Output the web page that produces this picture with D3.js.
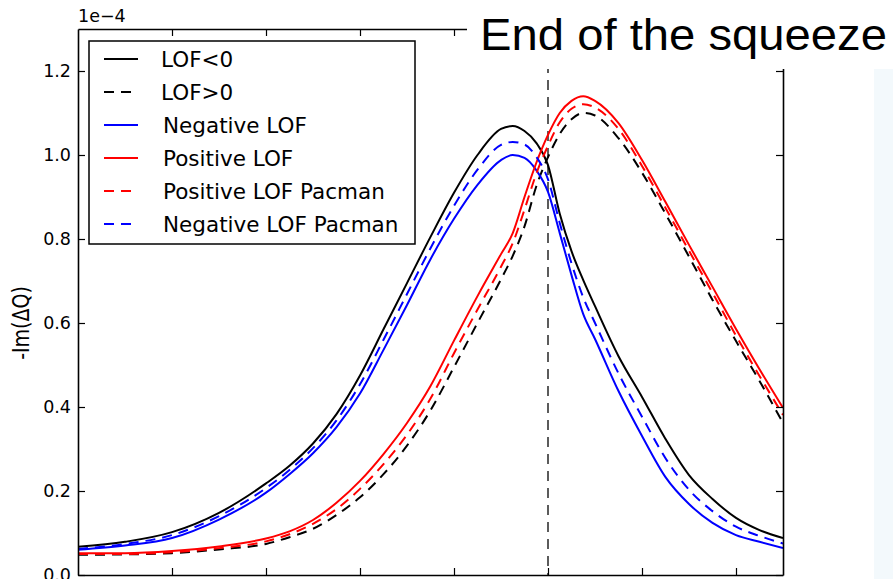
<!DOCTYPE html>
<html>
<head>
<meta charset="utf-8">
<script src="https://cdn.jsdelivr.net/npm/d3@7"></script>
<style>
  html, body { margin: 0; padding: 0; background: #fff; }
  svg { display: block; }
</style>
</head>
<body>
<svg id="chart" width="893" height="579"></svg>
<script>
// Sweep coordinate (one unit per major tick)
const xs = [0, 0.5, 1, 1.5, 2, 2.25, 2.5, 2.75, 3, 3.25, 3.5, 3.75, 4, 4.25, 4.5,
            4.625, 4.75, 4.875, 5, 5.125, 5.25, 5.375, 5.5, 5.75, 6, 6.25, 6.5,
            6.75, 7, 7.25, 7.5];

// -Im(ΔQ), in units of 1e-4
const lofNeg = [0.067, 0.079, 0.102, 0.148, 0.218, 0.260, 0.313, 0.383, 0.475, 0.585,
                0.695, 0.805, 0.910, 1.000, 1.062, 1.069, 1.057, 1.029, 0.976, 0.860,
                0.771, 0.702, 0.640, 0.521, 0.424, 0.324, 0.238, 0.181, 0.136, 0.107, 0.088];
const lofPos = [0.048, 0.049, 0.052, 0.061, 0.074, 0.090, 0.110, 0.143, 0.185, 0.240,
                0.308, 0.392, 0.495, 0.600, 0.704, 0.760, 0.830, 0.925, 0.995, 1.050,
                1.085, 1.100, 1.094, 1.040, 0.958, 0.860, 0.758, 0.655, 0.557, 0.462, 0.362];
const negativeLOF = [0.060, 0.070, 0.088, 0.132, 0.196, 0.240, 0.290, 0.352, 0.432, 0.536,
                     0.643, 0.752, 0.848, 0.929, 0.988, 1.000, 0.993, 0.964, 0.912, 0.814,
                     0.714, 0.621, 0.562, 0.438, 0.331, 0.233, 0.169, 0.124, 0.095, 0.079, 0.064];
const positiveLOF = [0.052, 0.052, 0.057, 0.068, 0.087, 0.104, 0.131, 0.172, 0.224, 0.288,
                     0.362, 0.450, 0.558, 0.664, 0.764, 0.814, 0.900, 0.981, 1.048, 1.100,
                     1.129, 1.140, 1.129, 1.076, 0.988, 0.888, 0.786, 0.686, 0.586, 0.490, 0.398];
const positivePacman = [0.050, 0.050, 0.054, 0.064, 0.080, 0.097, 0.122, 0.157, 0.205, 0.264,
                        0.334, 0.420, 0.528, 0.632, 0.734, 0.790, 0.870, 0.955, 1.022, 1.078,
                        1.110, 1.121, 1.113, 1.062, 0.974, 0.874, 0.772, 0.672, 0.570, 0.474, 0.381];
const negativePacman = [0.062, 0.074, 0.095, 0.140, 0.207, 0.250, 0.302, 0.368, 0.454, 0.560,
                        0.669, 0.778, 0.879, 0.965, 1.024, 1.031, 1.025, 0.996, 0.942, 0.838,
                        0.742, 0.661, 0.600, 0.480, 0.377, 0.278, 0.203, 0.152, 0.115, 0.093, 0.075];

const yTicks = [0, 0.2, 0.4, 0.6, 0.8, 1.0, 1.2];
const xTicks = [1, 2, 3, 4, 5, 6, 7];
const squeezeEnd = 5;

const series = [
  { name: "LOF<0",               values: lofNeg,         color: "#000000", dash: null },
  { name: "LOF>0",               values: lofPos,         color: "#000000", dash: "10,7" },
  { name: "Negative LOF",        values: negativeLOF,    color: "#0000ff", dash: null },
  { name: "Positive LOF",        values: positiveLOF,    color: "#ff0000", dash: null },
  { name: "Positive LOF Pacman", values: positivePacman, color: "#ff0000", dash: "10,7" },
  { name: "Negative LOF Pacman", values: negativePacman, color: "#0000ff", dash: "10,7" }
];

const svg = d3.select("#chart");
const pLeft = 78, pRight = 783, pTop = 29, pBottom = 575;
const x = d3.scaleLinear().domain([0, 7.5]).range([pLeft, pRight]);
const y = d3.scaleLinear().domain([0, 1.3]).range([pBottom, pTop]);
const tickFont = "'DejaVu Sans', sans-serif";

svg.append("defs").append("clipPath").attr("id", "plot-clip")
  .append("rect").attr("x", pLeft).attr("y", pTop)
  .attr("width", pRight - pLeft).attr("height", pBottom - pTop);

// faint panel on the far right
svg.append("rect").attr("x", 874).attr("y", 69).attr("width", 19).attr("height", 510)
  .attr("fill", "#f3f9fc");

// curves
const line = d3.line().x((d, i) => x(xs[i])).y(d => y(d)).curve(d3.curveMonotoneX);
const plot = svg.append("g").attr("clip-path", "url(#plot-clip)");

// end-of-squeeze marker
plot.append("line")
  .attr("x1", x(squeezeEnd)).attr("x2", x(squeezeEnd))
  .attr("y1", y(1.3)).attr("y2", y(0))
  .attr("stroke", "#333").attr("stroke-width", 1.6).attr("stroke-dasharray", "10,7");

series.forEach(s => {
  plot.append("path").datum(s.values)
    .attr("d", line)
    .attr("fill", "none")
    .attr("stroke", s.color)
    .attr("stroke-width", 2)
    .attr("stroke-dasharray", s.dash);
});

// axes with inward ticks on all four sides
function styleAxis(g) {
  g.selectAll(".domain").attr("stroke", "#000").attr("stroke-width", 1.6);
  g.selectAll(".tick line").attr("stroke", "#000").attr("stroke-width", 1.2);
  g.selectAll("text").attr("font-family", tickFont).attr("font-size", 17.5).attr("fill", "#000");
}
svg.append("g").attr("transform", `translate(${pLeft},0)`)
  .call(d3.axisLeft(y).tickValues(yTicks).tickFormat(d3.format(".1f"))
        .tickSizeInner(-7).tickSizeOuter(0).tickPadding(7))
  .call(styleAxis);
svg.append("g").attr("transform", `translate(${pRight},0)`)
  .call(d3.axisRight(y).tickValues(yTicks).tickFormat("")
        .tickSizeInner(-7).tickSizeOuter(0))
  .call(styleAxis);
svg.append("g").attr("transform", `translate(0,${pBottom})`)
  .call(d3.axisBottom(x).tickValues(xTicks).tickFormat("")
        .tickSizeInner(-7).tickSizeOuter(0))
  .call(styleAxis);
svg.append("g").attr("transform", `translate(0,${pTop})`)
  .call(d3.axisTop(x).tickValues(xTicks).tickFormat("")
        .tickSizeInner(-7).tickSizeOuter(0))
  .call(styleAxis);

// offset label
svg.append("text").attr("x", pLeft).attr("y", 22)
  .attr("font-family", tickFont).attr("font-size", 17.5)
  .text("1e\u22124");

// y label
svg.append("text")
  .attr("transform", "translate(29,323) scale(1.2,1) rotate(-90)")
  .attr("text-anchor", "middle")
  .attr("font-family", tickFont).attr("font-size", 19)
  .text("-Im(\u0394Q)");

// legend
const lg = svg.append("g");
lg.append("rect").attr("x", 89).attr("y", 41).attr("width", 326).attr("height", 203)
  .attr("fill", "#fff").attr("stroke", "#000").attr("stroke-width", 1.5);
series.forEach((s, i) => {
  const ly = 59 + i * 33;
  lg.append("line").attr("x1", 104).attr("x2", 138).attr("y1", ly).attr("y2", ly)
    .attr("stroke", s.color).attr("stroke-width", 2).attr("stroke-dasharray", s.dash);
  lg.append("text").attr("x", i < 2 ? 161 : 163).attr("y", ly).attr("dy", "0.36em")
    .attr("font-family", tickFont).attr("font-size", 21.5).attr("fill", "#000")
    .text(s.name);
});

// annotation with its own white backing
svg.append("rect").attr("x", 467).attr("y", 0).attr("width", 426).attr("height", 69)
  .attr("fill", "#fff");
svg.append("text").attr("x", 480).attr("y", 50)
  .attr("font-family", "'Liberation Sans', Arial, sans-serif").attr("font-size", 44)
  .attr("textLength", 407).attr("lengthAdjust", "spacingAndGlyphs")
  .attr("fill", "#000")
  .text("End of the squeeze");
</script>
</body>
</html>
